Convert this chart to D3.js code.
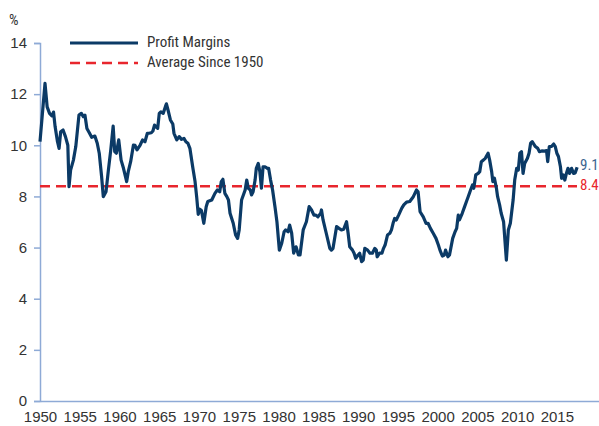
<!DOCTYPE html>
<html lang="en">
<head>
    <meta charset="UTF-8">
    <title>Profit Margins</title>
    <script src="https://d3js.org/d3.v7.min.js"></script>
    <style>
        body { margin: 0; background: #fff; }
        text { font-family: "Liberation Sans Narrow", "Arial Narrow", "Roboto Condensed", sans-serif; }
    </style>
</head>
<body>
<script>
    // quarterly-ish readings, % of sales
    const years = [
        1950.0, 1950.63, 1950.9, 1951.2, 1951.5, 1951.7, 1951.9, 1952.2, 1952.4, 1952.6, 1952.9,
        1953.2, 1953.5, 1953.65, 1953.85, 1954.2, 1954.5, 1954.9, 1955.2, 1955.45, 1955.65, 1955.9,
        1956.2, 1956.5, 1956.9, 1957.2, 1957.45, 1957.75, 1957.96, 1958.3, 1958.6, 1958.9, 1959.2,
        1959.4, 1959.6, 1959.9, 1960.2, 1960.5, 1960.9, 1961.1, 1961.4, 1961.75, 1961.95, 1962.2,
        1962.6, 1962.9, 1963.2, 1963.5, 1963.7, 1964.0, 1964.2, 1964.4, 1964.6, 1964.8, 1965.0,
        1965.2, 1965.5, 1965.8, 1965.9, 1966.1, 1966.4, 1966.7, 1966.85, 1967.2, 1967.5, 1967.8,
        1968.1, 1968.35, 1968.6, 1968.85, 1969.2, 1969.5, 1969.7, 1969.9, 1970.1, 1970.3, 1970.6,
        1970.9, 1971.1, 1971.6, 1972.0, 1972.3, 1972.6, 1972.8, 1973.0, 1973.25, 1973.5, 1973.7,
        1973.9, 1974.3, 1974.6, 1974.85, 1975.05, 1975.35, 1975.8, 1976.0, 1976.2, 1976.45, 1976.6,
        1976.8, 1977.05, 1977.2, 1977.45, 1977.65, 1977.85, 1978.05, 1978.3, 1978.6, 1978.75, 1979.0,
        1979.25, 1979.55, 1979.8, 1980.1, 1980.4, 1980.7, 1980.9, 1981.2, 1981.4, 1981.65, 1981.9,
        1982.2, 1982.5, 1982.7, 1983.1, 1983.5, 1983.85, 1984.15, 1984.45, 1984.7, 1984.95, 1985.3,
        1985.4, 1985.6, 1986.0, 1986.45, 1986.65, 1986.85, 1987.3, 1987.6, 1987.9, 1988.2, 1988.55,
        1988.75, 1988.95, 1989.3, 1989.5, 1989.7, 1990.0, 1990.2, 1990.45, 1990.65, 1990.85, 1991.2,
        1991.5, 1991.8, 1992.1, 1992.3, 1992.4, 1992.7, 1993.0, 1993.2, 1993.4, 1993.7, 1994.0,
        1994.2, 1994.4, 1994.6, 1994.8, 1995.1, 1995.5, 1995.75, 1996.1, 1996.5, 1996.95, 1997.35,
        1997.55, 1997.8, 1998.2, 1998.55, 1998.8, 1999.1, 1999.45, 1999.8, 2000.1, 2000.3, 2000.6,
        2000.85, 2001.0, 2001.3, 2001.5, 2001.9, 2002.2, 2002.4, 2002.6, 2002.75, 2003.1, 2003.4,
        2003.7, 2003.85, 2004.15, 2004.4, 2004.55, 2004.8, 2005.1, 2005.3, 2005.5, 2005.75, 2006.0,
        2006.35, 2006.55, 2006.8, 2006.95, 2007.15, 2007.4, 2007.55, 2007.8, 2008.0, 2008.3, 2008.65,
        2008.9, 2009.15, 2009.5, 2009.7, 2009.95, 2010.15, 2010.35, 2010.55, 2010.75, 2010.95, 2011.3,
        2011.5, 2011.7, 2011.9, 2012.3, 2012.6, 2012.8, 2013.1, 2013.45, 2013.7, 2013.85, 2014.05,
        2014.35, 2014.6, 2014.8, 2015.0, 2015.2, 2015.45, 2015.6, 2015.8, 2016.0, 2016.2, 2016.4,
        2016.6, 2016.85, 2017.1, 2017.3, 2017.55
    ];
    const margins = [
        10.14, 12.42, 11.5, 11.25, 11.15, 11.3, 10.73, 10.14, 9.88, 10.53, 10.6,
        10.34, 10.0, 8.38, 9.03, 9.42, 9.95, 11.18, 11.25, 11.12, 11.18, 10.66,
        10.49, 10.31, 10.36, 10.08, 9.69, 8.77, 7.99, 8.18, 9.03, 9.82, 10.75,
        9.75, 9.69, 10.21, 9.42, 9.1, 8.58, 8.97, 9.36, 10.01, 10.0, 9.82,
        10.01, 10.21, 10.14, 10.47, 10.47, 10.49, 10.56, 10.79, 10.72, 10.66, 11.25,
        11.31, 11.25, 11.54, 11.62, 11.38, 10.99, 10.83, 10.47, 10.21, 10.34, 10.23,
        10.27, 10.14, 10.08, 9.88, 9.16, 8.58, 7.99, 7.3, 7.5, 7.45, 6.95,
        7.6, 7.8, 7.86, 8.12, 8.25, 8.18, 8.58, 8.67, 8.12, 7.99, 7.86,
        7.34, 6.95, 6.49, 6.36, 6.69, 7.86, 8.25, 8.64, 8.32, 8.25, 8.06,
        8.18, 8.64, 9.1, 9.29, 8.97, 8.32, 9.16, 9.16, 9.1, 9.1, 8.64,
        8.25, 7.6, 7.0, 5.9, 6.17, 6.62, 6.69, 6.62, 6.88, 6.56, 5.78,
        6.03, 5.71, 5.71, 6.69, 7.01, 7.6, 7.47, 7.27, 7.27, 7.2, 7.34,
        7.47, 7.08, 6.56, 5.97, 5.9, 5.97, 6.82, 6.75, 6.69, 6.72, 7.01,
        6.56, 6.03, 5.9, 5.78, 5.58, 5.71, 5.78, 5.45, 5.51, 5.97, 5.9,
        5.78, 5.78, 5.97, 5.9, 5.64, 5.78, 5.78, 5.97, 6.1, 6.49, 6.56,
        6.69, 6.95, 7.14, 7.08, 7.27, 7.54, 7.67, 7.78, 7.8, 7.99, 8.25,
        8.18, 7.4, 7.2, 6.95, 6.95, 6.75, 6.56, 6.36, 6.1, 5.9, 5.67,
        5.71, 5.9, 5.64, 5.71, 6.36, 6.62, 6.75, 7.27, 7.08, 7.34, 7.6,
        7.86, 7.99, 8.25, 8.45, 8.32, 8.84, 8.9, 8.97, 9.36, 9.42, 9.49,
        9.69, 9.42, 8.97, 8.58, 8.71, 8.32, 7.99, 7.67, 7.34, 7.01, 5.51,
        6.69, 6.95, 7.86, 8.64, 9.1, 9.03, 9.69, 9.75, 8.9, 9.29, 9.49,
        9.69, 10.08, 10.14, 9.95, 9.88, 9.75, 9.78, 9.77, 9.79, 9.36, 9.95,
        9.96, 10.05, 9.95, 9.69, 9.56, 9.16, 8.71, 8.84, 8.64, 8.9, 9.1,
        8.9, 9.1, 8.9, 8.92, 9.14
    ];
    const average = 8.4;
    const latest = 9.1;
    const yTicks = [0, 2, 4, 6, 8, 10, 12, 14];
    const xTicks = [1950, 1955, 1960, 1965, 1970, 1975, 1980, 1985, 1990, 1995, 2000, 2005, 2010, 2015];
    const legendLabels = ["Profit Margins", "Average Since 1950"];

    const W = 599, H = 426;
    const navy = "#0b3a66", red = "#e8262d", axisCol = "#8eaad6";

    let svg = d3.select("body").append("svg")
        .attr("width", W)
        .attr("height", H);

    let x = d3.scaleLinear().domain([1950, 2020.3]).range([40, 599]);
    let y = d3.scaleLinear().domain([0, 14]).range([401, 43]);

    // y axis
    let yAxis = svg.append("g")
        .attr("transform", "translate(40,0)")
        .call(d3.axisLeft(y).tickValues(yTicks).tickSize(6).tickPadding(7).tickFormat(d3.format("d")));
    yAxis.select(".domain").attr("stroke", axisCol).attr("stroke-width", 1.5);
    yAxis.selectAll(".tick line").attr("stroke", axisCol).attr("stroke-width", 1.5);
    yAxis.selectAll("text").attr("font-size", 15).attr("fill", "#333")
        .style("font-family", "'Liberation Sans Narrow', 'Arial Narrow', sans-serif");

    // x axis (no tick marks)
    let xAxis = svg.append("g")
        .attr("transform", "translate(0,401)")
        .call(d3.axisBottom(x).tickValues(xTicks).tickSize(0).tickPadding(10).tickFormat(d3.format("d")));
    xAxis.select(".domain").attr("stroke", axisCol).attr("stroke-width", 1.5);
    xAxis.selectAll("text").attr("font-size", 15).attr("fill", "#333")
        .style("font-family", "'Liberation Sans Narrow', 'Arial Narrow', sans-serif");

    svg.append("text")
        .attr("x", 9).attr("y", 25)
        .attr("font-size", 15).attr("fill", "#333")
        .text("%");

    // average line
    svg.append("line")
        .attr("x1", x(1950)).attr("x2", 577)
        .attr("y1", y(average)).attr("y2", y(average))
        .attr("stroke", red).attr("stroke-width", 2.5)
        .attr("stroke-dasharray", "10,6");

    // profit margin line
    const pts = years.map((d, i) => [d, margins[i]]);
    svg.append("path")
        .datum(pts)
        .attr("fill", "none")
        .attr("stroke", navy)
        .attr("stroke-width", 3.2)
        .attr("stroke-linejoin", "round")
        .attr("d", d3.line().x(d => x(d[0])).y(d => y(d[1])));

    // end labels
    svg.append("text")
        .attr("x", 580).attr("y", y(latest) - 2)
        .attr("dominant-baseline", "middle")
        .attr("font-size", 15).attr("fill", "#3c6590")
        .text(latest.toFixed(1));
    svg.append("text")
        .attr("x", 580).attr("y", y(average))
        .attr("dominant-baseline", "middle")
        .attr("font-size", 15).attr("fill", red)
        .text(average.toFixed(1));

    // legend
    let legend = svg.append("g");
    legend.append("line")
        .attr("x1", 70).attr("x2", 138).attr("y1", 43).attr("y2", 43)
        .attr("stroke", navy).attr("stroke-width", 3);
    legend.append("line")
        .attr("x1", 70).attr("x2", 138).attr("y1", 63).attr("y2", 63)
        .attr("stroke", red).attr("stroke-width", 2.5).attr("stroke-dasharray", "10,6");
    legend.selectAll("text.lg")
        .data(legendLabels)
        .enter().append("text")
        .attr("class", "lg")
        .attr("x", 147)
        .attr("y", (d, i) => 43 + i * 20)
        .attr("dominant-baseline", "middle")
        .attr("font-size", 15).attr("fill", "#333")
        .text(d => d);
</script>
</body>
</html>
